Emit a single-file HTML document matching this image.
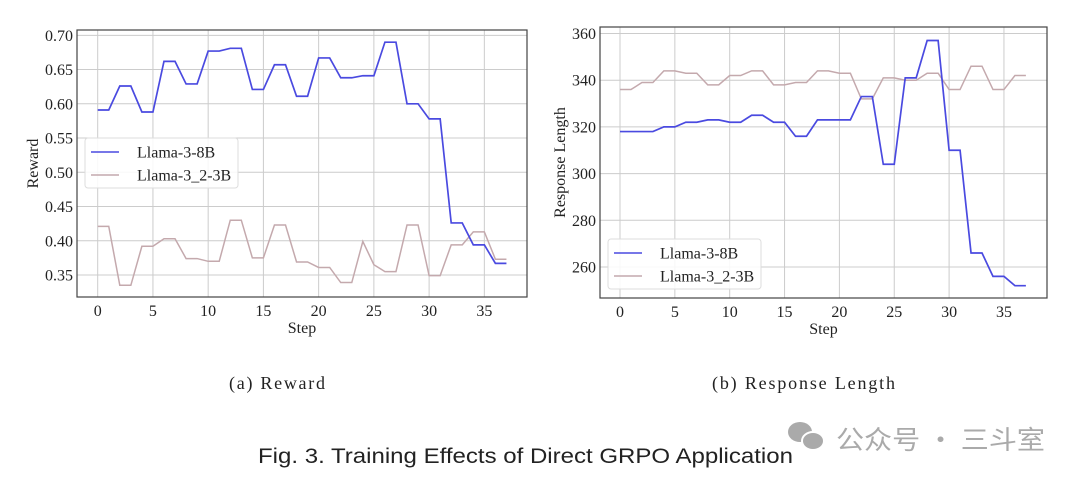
<!DOCTYPE html>
<html><head><meta charset="utf-8">
<style>
body{margin:0;background:#fff;width:1080px;height:484px;overflow:hidden;position:relative}
svg{position:absolute;left:0;top:0}
.t{font-family:"Liberation Serif",serif;fill:#222}
</style></head><body>
<svg id="s" width="1080" height="484">
<g id="gA"></g>
<g id="gB"></g>
<text x="229" y="389" textLength="96" lengthAdjust="spacing" class="t" font-size="18">(a)  Reward</text>
<text x="712" y="389" textLength="183" lengthAdjust="spacing" class="t" font-size="18">(b)  Response Length</text>
<text x="258" y="463" textLength="535" lengthAdjust="spacingAndGlyphs" font-family="Liberation Sans, sans-serif" font-size="21" fill="#222">Fig. 3.  Training Effects of Direct GRPO Application</text>
<g fill="#aaa">
<ellipse cx="800" cy="432" rx="12" ry="10"/><ellipse cx="813" cy="441" rx="11" ry="9" stroke="#fff" stroke-width="2"/>
<text x="836" y="449" textLength="209" lengthAdjust="spacingAndGlyphs" font-family="Noto Sans CJK SC, sans-serif" font-size="26" fill="#aaa">公众号 · 三斗室</text>
</g>
</svg>
<script>
const steps=[];for(let i=0;i<38;i++)steps.push(i);
const rewardTicks=[0.35,0.40,0.45,0.50,0.55,0.60,0.65,0.70];
const lenTicks=[260,280,300,320,340,360];
const xTicks=[0,5,10,15,20,25,30,35];
const reward8B=[0.591,0.591,0.626,0.626,0.588,0.588,0.662,0.662,0.629,0.629,0.677,0.677,0.681,0.681,0.621,0.621,0.657,0.657,0.611,0.611,0.667,0.667,0.638,0.638,0.641,0.641,0.690,0.690,0.600,0.600,0.578,0.578,0.426,0.426,0.394,0.394,0.367,0.367];
const reward3B=[0.421,0.421,0.335,0.335,0.392,0.392,0.403,0.403,0.374,0.374,0.370,0.370,0.430,0.430,0.375,0.375,0.423,0.423,0.369,0.369,0.361,0.361,0.339,0.339,0.399,0.365,0.355,0.355,0.423,0.423,0.349,0.349,0.394,0.394,0.413,0.413,0.373,0.373];
const len8B=[318,318,318,318,320,320,322,322,323,323,322,322,325,325,322,322,316,316,323,323,323,323,333,333,304,304,341,341,357,357,310,310,266,266,256,256,252,252];
const len3B=[336,336,339,339,344,344,343,343,338,338,342,342,344,344,338,338,339,339,344,344,343,343,332,332,341,341,340,340,343,343,336,336,346,346,336,336,342,342];
const NS="http://www.w3.org/2000/svg";
function mk(p,tag,a){const e=document.createElementNS(NS,tag);for(const k in a)e.setAttribute(k,a[k]);p.appendChild(e);return e;}
function chart(g,box,xmap,ymap,yticks,fmt,ylabel,s1,s2,leg){
  const X=v=>xmap[0]+(v-xmap[1])*xmap[2], Y=v=>ymap[0]+(v-ymap[1])*ymap[2];
  yticks.forEach(t=>{const y=Y(t);
    const l=mk(g,'line',{x1:box[0],x2:box[2],y1:y,y2:y,stroke:'#ccc','stroke-width':1});
    
    
    const tx=mk(g,'text',{x:box[0]-4,y:y+5.5,'text-anchor':'end',class:'t','font-size':16});
    tx.textContent=fmt(t);
    
    
  });
  xTicks.forEach(t=>{const x=X(t);
    const l=mk(g,'line',{x1:x,x2:x,y1:box[1],y2:box[3],stroke:'#ccc','stroke-width':1});
    
    
    const tx=mk(g,'text',{x:x,y:box[3]+19,'text-anchor':'middle',class:'t','font-size':16});
    tx.textContent=t;
    
    
  });
  const fr=mk(g,'rect',{x:box[0],y:box[1],width:box[2]-box[0],height:box[3]-box[1],fill:'none',stroke:'#444','stroke-width':1.2});
  
  
  const xl=mk(g,'text',{x:(box[0]+box[2])/2,y:box[3]+36,'text-anchor':'middle',class:'t','font-size':16});
  xl.textContent='Step';
  
  
  const yl=mk(g,'text',{x:0,y:0,'text-anchor':'middle',class:'t','font-size':16,transform:`translate(${ylabel[1]},${(box[1]+box[3])/2}) rotate(-90)`});
  yl.textContent=ylabel[0];
  
  
  [[s2,'#c4a9ad','series-llama-3-2-3b',1.5],[s1,'#4a4ae0','series-llama-3-8b',1.7]].forEach(([s,c,n,w])=>{
    const p=mk(g,'polyline',{points:s.map((v,i)=>X(steps[i])+','+Y(v)).join(' '),fill:'none',stroke:c,'stroke-width':w});
    
    
  });
  const lg=mk(g,'g',{});
  
  
  mk(lg,'rect',{x:leg[0],y:leg[1],width:153,height:50,fill:'#fff','fill-opacity':0.85,stroke:'#ddd',rx:3});
  [['Llama-3-8B','#4a4ae0'],['Llama-3_2-3B','#c4a9ad']].forEach(([n,c],i)=>{
    const y=leg[1]+14+i*23;
    mk(lg,'line',{x1:leg[0]+6,x2:leg[0]+34,y1:y,y2:y,stroke:c,'stroke-width':1.5});
    const t=mk(lg,'text',{x:leg[0]+52,y:y+5.5,class:'t','font-size':16});t.textContent=n;
    
    
  });
}
chart(document.getElementById('gA'),[77,30,527,297],[97.7,0,11.047],[275,0.35,-684.8],rewardTicks,v=>v.toFixed(2),['Reward',38],reward8B,reward3B,[85,138]);
chart(document.getElementById('gB'),[600,27,1047,298],[620,0,10.97],[267,260,-2.335],lenTicks,v=>v,['Response Length',565],len8B,len3B,[608,239]);
</script>
</body></html>
